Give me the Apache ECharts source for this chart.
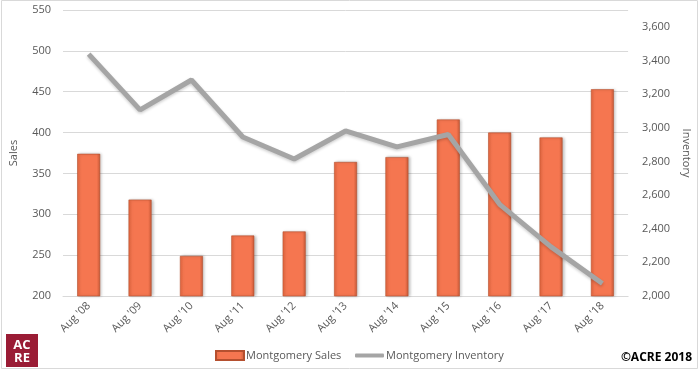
<!DOCTYPE html>
<html>
<head>
<meta charset="utf-8">
<script src="https://cdn.jsdelivr.net/npm/echarts@6/dist/echarts.min.js"></script>
<style>html,body{margin:0;padding:0;background:#fff;}#c{width:700px;height:371px;}</style>
</head>
<body>
<div id="c"></div>
<script>
const categories = ["Aug '08","Aug '09","Aug '10","Aug '11","Aug '12","Aug '13","Aug '14","Aug '15","Aug '16","Aug '17","Aug '18"];
const salesValues = [374, 318, 249, 274, 279, 364, 370, 416, 400, 394, 453];
const inventoryValues = [3438, 3106, 3284, 2945, 2814, 2981, 2886, 2960, 2545, 2292, 2074];
const salesTicks = [200, 250, 300, 350, 400, 450, 500, 550];
const inventoryTicks = [2000, 2200, 2400, 2600, 2800, 3000, 3200, 3400, 3600];

const chart = echarts.init(document.getElementById('c'), null, {renderer: 'canvas'});
const txt = '#595959';
const font = 'Open Sans';
const fmt = v => v.toLocaleString('en-US');

chart.setOption({
  animation: false,
  textStyle: {fontFamily: font},
  grid: {left: 60, right: 60, top: 10, bottom: 75},
  graphic: [
    {type: 'rect', shape: {x: 1.5, y: 0.5, width: 696, height: 368}, style: {fill: 'none', stroke: '#D9D9D9', lineWidth: 1}, z: -1},
    {type: 'rect', shape: {x: 6, y: 334, width: 32, height: 33}, style: {fill: '#9A1C35'}},
    {type: 'text', x: 22, y: 345, style: {text: 'AC', fill: '#fff', font: 'bold 13px "Open Sans"', align: 'center', verticalAlign: 'middle'}},
    {type: 'text', x: 22, y: 358, style: {text: 'RE', fill: '#fff', font: 'bold 13px "Open Sans"', align: 'center', verticalAlign: 'middle'}},
    {type: 'text', right: 8, top: 352, style: {text: '©ACRE 2018', fill: '#000', font: 'bold 12px "Open Sans"'}}
  ],
  legend: [
    {
      left: 210, top: 345, itemWidth: 28, itemHeight: 9,
      textStyle: {color: txt, fontSize: 11, fontFamily: font, padding: [0, 0, 0, -3]},
      data: [{name: 'Montgomery Sales', icon: 'rect'}]
    },
    {
      left: 350, top: 345, itemWidth: 29, itemHeight: 4,
      textStyle: {color: txt, fontSize: 11, fontFamily: font, padding: [0, 0, 0, -3]},
      data: [{name: 'Montgomery Inventory', icon: 'roundRect'}]
    }
  ],
  xAxis: {
    type: 'category', data: categories,
    axisLine: {lineStyle: {color: '#D9D9D9'}},
    axisTick: {show: false},
    axisLabel: {rotate: 45, color: txt, fontSize: 11, margin: 8, interval: 0}
  },
  yAxis: [
    {
      type: 'value', min: salesTicks[0], max: salesTicks[salesTicks.length - 1], interval: 50,
      name: 'Sales', nameLocation: 'middle', nameGap: 44, nameRotate: 90,
      nameTextStyle: {color: txt, fontSize: 11},
      axisLine: {show: false}, axisTick: {show: false},
      axisLabel: {color: txt, fontSize: 11, margin: 30, align: 'right', padding: [0, -18, 0, 0]},
      splitLine: {lineStyle: {color: '#D9D9D9'}}
    },
    {
      type: 'value', min: inventoryTicks[0], max: 3700, interval: 200,
      name: 'Inventory', nameLocation: 'middle', nameGap: 48, nameRotate: -90,
      nameTextStyle: {color: txt, fontSize: 11},
      axisLine: {show: false}, axisTick: {show: false}, splitLine: {show: false},
      axisLabel: {color: txt, fontSize: 11, margin: 14, formatter: v => inventoryTicks.includes(v) ? fmt(v) : ''}
    }
  ],
  series: [
    {
      name: 'Montgomery Sales', type: 'bar', data: salesValues, barWidth: 23, yAxisIndex: 0,
      itemStyle: {
        color: new echarts.graphic.LinearGradient(0, 0, 1, 0, [
          {offset: 0, color: '#E8683F'},
          {offset: 0.15, color: '#F57650'},
          {offset: 0.85, color: '#F57650'},
          {offset: 1, color: '#C85A38'}
        ]),
        borderColor: '#B5502F', borderWidth: 0.6,
        shadowColor: 'rgba(0,0,0,0.25)', shadowBlur: 3, shadowOffsetX: 1.5, shadowOffsetY: 0
      },
      z: 2
    },
    {
      name: 'Montgomery Inventory', type: 'line', data: inventoryValues, yAxisIndex: 1,
      symbol: 'none', smooth: false,
      lineStyle: {color: '#A5A5A5', width: 5, shadowColor: 'rgba(0,0,0,0.2)', shadowBlur: 3, shadowOffsetY: 1.5},
      itemStyle: {color: '#A5A5A5'},
      z: 3
    }
  ]
});
</script>
</body>
</html>
